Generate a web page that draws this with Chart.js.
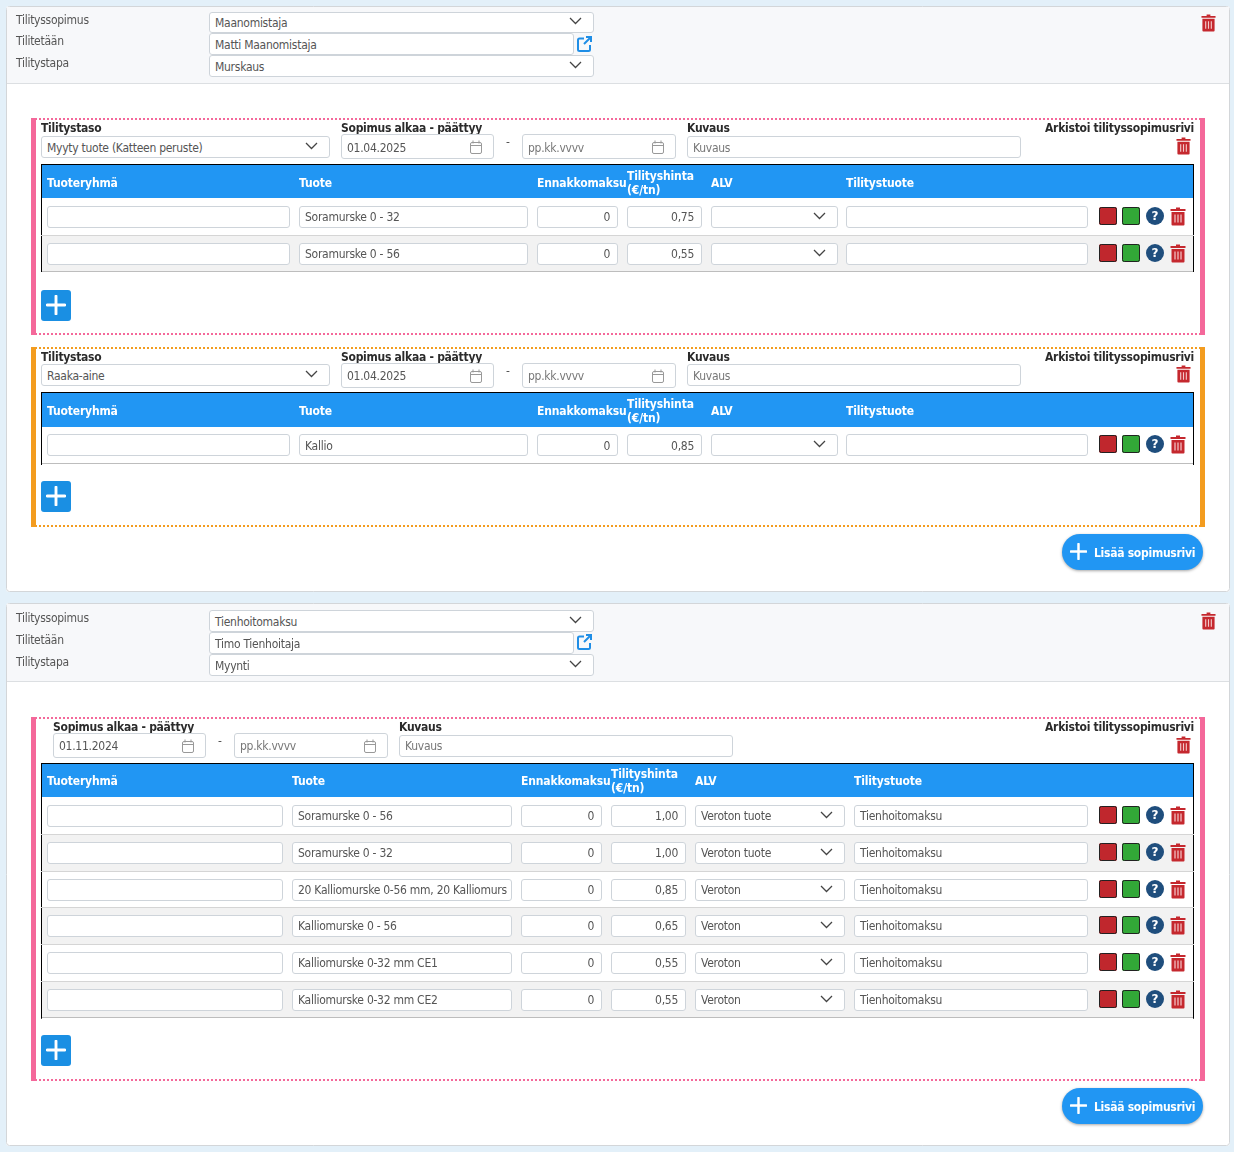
<!DOCTYPE html>
<html lang="fi"><head><meta charset="utf-8"><title>Tilityssopimukset</title>
<script src="https://cdn.jsdelivr.net/npm/chart.js@4"></script>
<style>
html,body{margin:0;padding:0;background:#e3f0f9;width:1234px;height:1152px;overflow:hidden}
#p{position:relative;width:1234px;height:1152px;font:12px/1 "DejaVu Sans Condensed","DejaVu Sans",sans-serif;font-stretch:condensed;letter-spacing:-.27px;color:#555}
#p canvas{position:absolute;left:0;top:0}
#p div,#p svg{position:absolute;box-sizing:border-box}
.t{white-space:nowrap;transform:translateY(-50%)}
.b{font-weight:bold;color:#2b2b2b}
.f{background:#fff;border:1px solid #ced4da;border-radius:3px;padding-left:5px;display:flex;align-items:center;overflow:hidden;white-space:nowrap}
.r{justify-content:flex-end;padding-right:7px;padding-left:0}
.ph{color:#777}
.h{color:#fff;font-weight:bold;letter-spacing:-.15px}
</style></head><body><div id="p"><canvas id="c" width="1234" height="1152"></canvas></div>
<script>
const contractLabels=["Tilityssopimus","Tilitetään","Tilitystapa"];
const contract1=["Maanomistaja","Matti Maanomistaja","Murskaus"];
const contract2=["Tienhoitomaksu","Timo Tienhoitaja","Myynti"];
const headers=["Tuoteryhmä","Tuote","Ennakkomaksu","Tilityshinta","(€/tn)","ALV","Tilitystuote"];
const groupLabels=["Tilitystaso","Sopimus alkaa - päättyy","Kuvaus","Arkistoi tilityssopimusrivi"];
const levels=["Myyty tuote (Katteen peruste)","Raaka-aine"];
const startDates=["01.04.2025","01.04.2025","01.11.2024"];
const products1=["Soramurske 0 - 32","Soramurske 0 - 56"];
const prices1=["0,75","0,55"];
const products2=["Kallio"];
const prices2=["0,85"];
const products3=["Soramurske 0 - 56","Soramurske 0 - 32","20 Kalliomurske 0-56 mm, 20 Kalliomurs","Kalliomurske 0 - 56","Kalliomurske 0-32 mm CE1","Kalliomurske 0-32 mm CE2"];
const prices3=["1,00","1,00","0,85","0,65","0,55","0,55"];
const vat3=["Veroton tuote","Veroton tuote","Veroton","Veroton","Veroton","Veroton"];
const settlementProduct3="Tienhoitomaksu";

const P=document.getElementById('p');
const chrome=[];
function rect(x,y,w,h,fill,o){chrome.push({x,y,w,h,fill,...(o||{})})}
function dots(x,y,w,col){chrome.push({dots:1,x,y,w,col})}
function box(x,y,w,h,css,html,cls){const d=document.createElement('div');d.style.cssText=`left:${x}px;top:${y}px;width:${w}px;height:${h}px;${css||''}`;if(cls)d.className=cls;if(html!=null)d.innerHTML=html;P.appendChild(d);return d}
function txt(x,cy,s,cls,css){const d=document.createElement('div');d.className='t '+(cls||'');d.style.cssText=`left:${x}px;top:${cy}px;${css||''}`;d.textContent=s;P.appendChild(d);return d}
function svg(x,y,w,h,vb,inner){const n=document.createElement('div');n.style.cssText=`left:${x}px;top:${y}px;width:${w}px;height:${h}px`;n.innerHTML=`<svg style="left:0;top:0" width="${w}" height="${h}" viewBox="${vb}">${inner}</svg>`;P.appendChild(n)}
function field(x,y,w,h,s,o={}){const d=box(x,y,w,h,'',null,'f'+(o.right?' r':'')+(o.ph?' ph':''));const sp=document.createElement('span');sp.textContent=s||'';if(o.shift){sp.style.position='relative';sp.style.top=o.shift+'px'}d.appendChild(sp);return d}
function chevron(x,cy){svg(x,cy-5,13,8,'0 0 13 8','<path d="M1 1l5.5 5.5L12 1" fill="none" stroke="#444" stroke-width="1.25"/>')}
function select(x,y,w,h,s,shift){field(x,y,w,h,s,{shift});chevron(x+w-25,y+h/2-.5)}
function cal(x,y){svg(x,y,12,14,'0 0 12 14','<rect x=".5" y="2.5" width="11" height="11" rx="1.5" fill="none" stroke="#999"/><path d="M.5 5.5h11M3 .5v3M9 .5v3" stroke="#999" fill="none"/>')}
function date(x,y,w,s,ph,shift){field(x,y,w,25,s,{ph,shift});cal(x+w-24,y+6)}
function trash(x,y,w,h){svg(x,y,w,h,'0 0 16 18','<path d="M6 0h4v1.5h5.5v2H.5v-2H6z" fill="#c5282e"/><path d="M1.5 4.5h13V17a1 1 0 0 1-1 1h-11a1 1 0 0 1-1-1z" fill="#c5282e"/><path d="M5 7v8M8 7v8M11 7v8" stroke="#f3c9cb" stroke-width="1.2"/>')}
function plus(x,y,s,c){svg(x,y,s,s,'0 0 18 18',`<path d="M9 1v16M1 9h16" stroke="${c||'#fff'}" stroke-width="2.6" stroke-linecap="round"/>`)}
function head(y,vals,L,F,S){
  contractLabels.forEach((l,i)=>txt(16,y+L[i],l));
  select(209,y+F[0],385,F[1]-F[0],vals[0],S[0]);field(209,y+F[1],365,F[2]-F[1],vals[1],{shift:S[1]});select(209,y+F[2],385,F[3]-F[2],vals[2],S[2]);
  svg(577,y+24,15,16,'0 0 15 16','<path d="M7 2.5H2.5a1.5 1.5 0 0 0-1.5 1.5v9.5a1.5 1.5 0 0 0 1.5 1.5h9a1.5 1.5 0 0 0 1.5-1.5V9" fill="none" stroke="#1f8ee6" stroke-width="2"/><path d="M9 1h5v5M14 1L7 8" fill="none" stroke="#1f8ee6" stroke-width="2"/>');
  trash(1201,y+2,15,18);
}
function group(g){
  const {top,bottom,col,dateX,kuvX,level,start,tableTop,cols,rows,plusY,fy,dy,shift,dateShift,hShift,hh,inset,rowShift}=g;
  dots(31,top,1174,col);dots(31,bottom-2,1174,col);
  rect(31,top,5,bottom-top,col);rect(1200,top,5,bottom-top,col);
  const ly=top+10;
  if(level){txt(41,ly,groupLabels[0],'b');select(41,fy,289,22,level,shift)}
  txt(dateX,ly,groupLabels[1],'b');date(dateX,dy,153,start,false,dateShift);txt(dateX+165,ly+14,'-','');date(dateX+181,dy,154,'pp.kk.vvvv',true,dateShift);
  txt(kuvX,ly,groupLabels[2],'b');field(kuvX,fy,334,22,'Kuvaus',{ph:true,shift});
  txt(1045,ly,groupLabels[3],'b');trash(1176,fy+1,15,18);
  const n=rows.length,rowH=rows.rowH;
  rect(41,tableTop,1153,1,'#000');
  rect(41,tableTop,1,hh+1+n*rowH,'#000');rect(1193,tableTop,1,hh+1+n*rowH,'#000');
  rect(42,tableTop+1,1151,hh-1,'#2196f3');
  const my=tableTop+18+hShift;
  txt(47,my,headers[0],'h');txt(cols[1][0],my,headers[1],'h');txt(cols[2][0],my,headers[2],'h');
  txt(cols[3][0],my-7,headers[3],'h');txt(cols[3][0],my+7,headers[4],'h');txt(cols[4][0],my,headers[5],'h');txt(cols[5][0],my,headers[6],'h');
  rows.forEach((r,i)=>{
    const y=Math.round(tableTop+hh+i*rowH),iy=y+inset,s=rowShift;
    if(i%2)rect(42,y,1151,Math.round(rowH),'#f2f2f2');
    if(i)rect(41,y,1153,1,'#d5d5d5');
    if(i==n-1)rect(42,y+Math.round(rowH)-1,1151,1,'#bdbdbd');
    field(cols[0][0],iy,cols[0][1],22,'');
    field(cols[1][0],iy,cols[1][1],22,r.p,{shift:s});
    field(cols[2][0],iy,cols[2][1],22,'0',{right:true,shift:s});
    field(cols[3][0],iy,cols[3][1],22,r.v,{right:true,shift:s});
    select(cols[4][0],iy,cols[4][1],22,r.a,s);
    field(cols[5][0],iy,cols[5][1],22,r.s,{shift:s});
    rect(1099,iy+1,18,18,'#c0272d',{line:'#222',r:2});
    rect(1122,iy+1,18,18,'#32a837',{line:'#222',r:2});
    box(1146,iy+1,18,18,'background:#1f4e7d;border-radius:50%;color:#fff;font:bold 12px/18px "DejaVu Sans";letter-spacing:0;text-align:center','?');
    trash(1170,iy+1,16,19);
  });
  rect(41,plusY,30,31,'#1a8fe3',{r:3});plus(46,plusY+5,20);
}
function rowsOf(ps,vs,as,ss,h){const a=ps.map((p,i)=>({p,v:vs[i],a:as?as[i]:'',s:ss||''}));a.rowH=h;return a}
function addBtn(y){rect(1062,y,141,36,'#2196f3',{r:18,shadow:1});plus(1070,y+9,17);txt(1094,y+19,'Lisää sopimusrivi','h','letter-spacing:-.27px')}

rect(6,6,1224,586,'#fff',{line:'#d3d6d9',r:3});
rect(7,7,1222,77,'#f7f8fa');rect(7,83,1222,1,'#dcdfe2');
head(12,contract1,[8,29,51],[0,21,43,65],[0,1,1]);
const c12=[[47,243],[299,229],[537,81],[627,75],[711,127],[846,242]];
group({top:118,bottom:335,col:'#f4689a',dateX:341,kuvX:687,level:levels[0],start:startDates[0],tableTop:164,cols:c12,rows:rowsOf(products1,prices1,null,'',36.5),plusY:290,fy:136,dy:134,shift:1,dateShift:1,hShift:1,hh:34,inset:8,rowShift:0});
group({top:347,bottom:527,col:'#f39c1f',dateX:341,kuvX:687,level:levels[1],start:startDates[1],tableTop:392,cols:c12,rows:rowsOf(products2,prices2,null,'',37),plusY:481,fy:364,dy:363,shift:1,dateShift:0,hShift:1,hh:35,inset:7,rowShift:1});
addBtn(534);
rect(6,603,1224,543,'#fff',{line:'#d3d6d9',r:3});
rect(7,604,1222,78,'#f7f8fa');rect(7,681,1222,1,'#dcdfe2');
head(610,contract2,[8,30,52],[0,22,44,66],[1,1,1]);
const c3=[[47,236],[292,220],[521,81],[611,75],[695,150],[854,234]];
group({top:717,bottom:1081,col:'#f4689a',dateX:53,kuvX:399,level:'',start:startDates[2],tableTop:763,cols:c3,rows:rowsOf(products3,prices3,vat3,settlementProduct3,36.8),plusY:1035,fy:735,dy:733,shift:0,dateShift:0,hShift:0,hh:34,inset:8,rowShift:0});
addBtn(1088);

const chromePlugin={id:'formChrome',beforeDraw(chart){
  const c=chart.ctx;
  for(const i of chrome){
    c.save();
    if(i.dots){c.strokeStyle=i.col;c.lineWidth=2;c.setLineDash([2,2]);c.beginPath();c.moveTo(i.x,i.y+1);c.lineTo(i.x+i.w,i.y+1);c.stroke()}
    else{
      if(i.shadow){c.shadowColor='rgba(0,0,0,.35)';c.shadowBlur=3;c.shadowOffsetY=1}
      c.fillStyle=i.fill;c.beginPath();c.roundRect(i.x,i.y,i.w,i.h,i.r||0);c.fill();
      c.shadowColor='transparent';
      if(i.line){c.strokeStyle=i.line;c.lineWidth=1;c.beginPath();c.roundRect(i.x+.5,i.y+.5,i.w-1,i.h-1,i.r||0);c.stroke()}
    }
    c.restore();
  }
}};
new Chart(document.getElementById('c'),{type:'bar',data:{labels:[],datasets:[]},plugins:[chromePlugin],options:{responsive:false,animation:false,devicePixelRatio:1,events:[],layout:{padding:0},scales:{x:{display:false},y:{display:false}},plugins:{legend:{display:false},tooltip:{enabled:false}}}});
document.getElementById('c').style.cssText+=';position:absolute;left:0;top:0';
</script></body></html>
